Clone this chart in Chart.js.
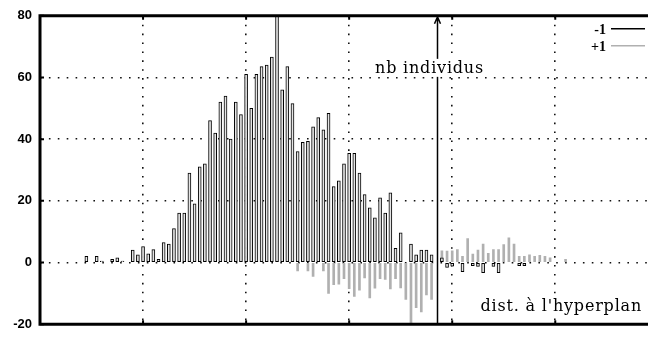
<!DOCTYPE html>
<html>
<head>
<meta charset="utf-8">
<script src="https://cdn.jsdelivr.net/npm/chart.js@4/dist/chart.umd.min.js"></script>
<style>
  html, body { margin: 0; padding: 0; background: #fff; overflow: hidden; }
  #wrap { width: 648px; height: 340px; }
</style>
</head>
<body>
<div id="wrap"><canvas id="c" width="648" height="340"></canvas></div>
<script>
// Histogram of distances to the separating hyperplane, one impulse per distance bin.
// Class "-1"
const binsNeg = [9,11,12,14,15,16,
  18,19,20,21,22,23,24,25,26,27,28,29,30,31,32,33,34,35,36,37,38,39,40,41,42,43,44,45,46,47,
  48,49,50,51,52,53,54,55,56,57,58,59,60,61,62,63,64,65,66,67,68,69,70,
  72,73,74,75,76,78,79,80,82,84,85,86,88,89,93,94];
const countsNeg = [2,2,0.5,1,1.5,0.5,
  4,2.5,5.2,2.8,4.2,1,6.5,6,11,16,16,29,19,31,32,46,42,52,54,40,52,48,61,50,61,63.5,64,66.6,85,56,
  63.5,51.5,36,39,39.3,44,47,43,48.4,24.6,26.5,32,35.4,35.4,29,22,17.7,14.5,21,16,22.6,4.6,9.6,
  6,2.5,4,4,2.5,1.5,-1.6,-1.2,-3,-1,-1.3,-3.3,-1.3,-3.3,-1,-1];

// Class "+1"
const binsPos = [50,52,53,55,
  56,57,58,59,60,61,62,63,64,65,66,67,68,69,70,71,72,73,74,75,76,
  78,79,80,81,82,83,84,85,86,87,88,89,90,91,92,93,94,95,96,97,98,99,102];
const countsPos = [-2.7,-2.7,-4.5,-2.7,
  -10,-7.2,-7,-5.2,-8.5,-11,-9,-5,-11.5,-8.3,-5.2,-5.5,-8.6,-5.2,-8.2,-12,-21,-14.6,-16,-10.5,-12,
  3.8,3.7,3.8,4.2,2,7.8,2.7,4,6,3,4.2,4.2,5.8,8,6,2,2,2.5,2,2.3,2,1.5,1];

const seriesLabels = ['-1', '+1'];
const yTicks = [-20, 0, 20, 40, 60, 80];
const gridBins = [20, 40, 60, 80, 100];
const xRange = [0, 118];
const arrowBin = 77.1;          // position of the "nb individus" axis arrow
const arrowLabel = 'nb individus';
const xTitle = "dist. \u00e0 l'hyperplan";

const toPoints = (xs, ys) => xs.map((x, i) => ({ x: x, y: ys[i] }));

const dotted = [1.6, 7.3];

// Frame, tick marks, arrow, annotations and legend drawn on top of the plot
const decorations = {
  id: 'decorations',
  afterDraw(chart) {
    const { ctx, chartArea: a, scales } = chart;
    const xs = scales.x, ys = scales.y;
    ctx.save();

    // tick marks
    ctx.strokeStyle = '#000';
    ctx.lineWidth = 2;
    ctx.beginPath();
    yTicks.forEach(v => {
      const y = ys.getPixelForValue(v);
      ctx.moveTo(a.left, y); ctx.lineTo(a.left + 4, y);
    });
    gridBins.forEach(v => {
      const x = xs.getPixelForValue(v);
      ctx.moveTo(x, a.top); ctx.lineTo(x, a.top + 4);
      ctx.moveTo(x, a.bottom); ctx.lineTo(x, a.bottom - 4);
    });
    ctx.stroke();

    // vertical arrow
    const ax = Math.round(xs.getPixelForValue(arrowBin)) + 0.5;
    ctx.lineWidth = 1.5;
    ctx.beginPath();
    ctx.moveTo(ax, a.bottom); ctx.lineTo(ax, a.top + 1);
    ctx.moveTo(ax - 3, a.top + 8); ctx.lineTo(ax, a.top + 1); ctx.lineTo(ax + 3, a.top + 8);
    ctx.stroke();

    // annotations with a white backing
    ctx.font = '16px "DejaVu Serif", serif';
    ctx.letterSpacing = '0.8px';
    ctx.textBaseline = 'alphabetic';
    const drawLabel = (text, x, y, align) => {
      const w = ctx.measureText(text).width;
      const left = align === 'right' ? x - w : (align === 'center' ? x - w / 2 : x);
      ctx.fillStyle = '#fff';
      ctx.fillRect(left - 2, y - 14, w + 4, 18);
      ctx.fillStyle = '#000';
      ctx.textAlign = align;
      ctx.fillText(text, x, y);
    };
    drawLabel(arrowLabel, ax - 8, ys.getPixelForValue(61.5), 'center');
    drawLabel(xTitle, a.right - 6, a.bottom - 13, 'right');
    ctx.letterSpacing = '0px';

    // frame
    ctx.strokeStyle = '#000';
    ctx.lineWidth = 3;
    ctx.beginPath();
    ctx.moveTo(a.right + 2, a.top); ctx.lineTo(a.left, a.top);
    ctx.lineTo(a.left, a.bottom); ctx.lineTo(a.right + 2, a.bottom);
    ctx.stroke();

    // legend: label then line sample
    ctx.font = 'bold 14px "Liberation Serif", serif';
    ctx.textAlign = 'right';
    chart.data.datasets.forEach((ds, i) => {
      const y = a.top + 13 + i * 17;
      ctx.fillStyle = '#000';
      ctx.fillText(ds.label, a.right - 42, y + 5);
      ctx.strokeStyle = ds.legendColor;
      ctx.lineWidth = 1.5;
      ctx.beginPath();
      ctx.moveTo(a.right - 37, y); ctx.lineTo(a.right - 3, y);
      ctx.stroke();
    });
    ctx.restore();
  }
};

new Chart(document.getElementById('c'), {
  type: 'bar',
  data: {
    datasets: [
      {
        label: seriesLabels[0],
        data: toPoints(binsNeg, countsNeg),
        backgroundColor: '#e4e4e4',
        borderColor: '#000',
        borderWidth: 1,
        borderSkipped: false,
        barThickness: 3,
        grouped: false,
        clip: 0,
        legendColor: '#000'
      },
      {
        label: seriesLabels[1],
        data: toPoints(binsPos, countsPos),
        backgroundColor: '#b0b0b0',
        borderWidth: 0,
        barThickness: 2,
        grouped: false,
        clip: 0,
        legendColor: '#b0b0b0'
      }
    ]
  },
  options: {
    responsive: false,
    animation: false,
    devicePixelRatio: 1,
    layout: { padding: { top: 14, bottom: 4, left: 0, right: 0 } },
    plugins: { legend: { display: false }, tooltip: { enabled: false } },
    scales: {
      x: {
        type: 'linear',
        min: xRange[0], max: xRange[1],
        offset: false,
        afterBuildTicks(s) { s.ticks = gridBins.map(v => ({ value: v })); },
        afterFit(s) { s.height = 0; },
        ticks: { display: false },
        grid: { color: '#111', lineWidth: 1.6, drawTicks: false, offset: false, borderDash: dotted },
        border: { display: false, dash: dotted }
      },
      y: {
        min: yTicks[0], max: yTicks[yTicks.length - 1],
        afterBuildTicks(s) { s.ticks = yTicks.map(v => ({ value: v })); },
        afterFit(s) { s.width = 40; },
        ticks: {
          color: '#000',
          padding: 8,
          font: { family: '"Liberation Sans", sans-serif', size: 13, weight: 'bold' }
        },
        grid: {
          color: c => (c.tick && (c.tick.value === yTicks[0] || c.tick.value === yTicks[yTicks.length - 1])) ? 'rgba(0,0,0,0)' : '#111',
          lineWidth: 1.6, drawTicks: false, borderDash: dotted
        },
        border: { display: false, dash: dotted }
      }
    }
  },
  plugins: [decorations]
});
</script>
</body>
</html>
